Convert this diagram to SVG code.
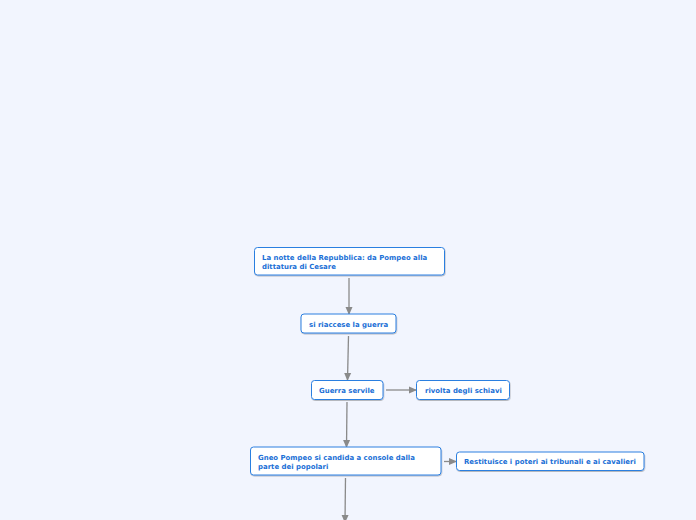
<svg xmlns="http://www.w3.org/2000/svg" width="696" height="520" viewBox="0 0 696 520">
<defs>
<marker id="ah" markerWidth="8" markerHeight="8" refX="7" refY="4" orient="auto" markerUnits="userSpaceOnUse">
<path d="M0,0.5 L8,4 L0,7.5 Z" fill="#8a8a8a"/>
</marker>
<filter id="sh" x="-10%" y="-20%" width="120%" height="150%">
<feDropShadow dx="0.5" dy="1" stdDeviation="0.6" flood-color="#000" flood-opacity="0.25"/>
</filter>
</defs>
<style>
.box{fill:#fff;stroke:#2c7fe0;stroke-width:1;filter:url(#sh)}
.t{font-family:"DejaVu Sans",Verdana,sans-serif;font-weight:bold;font-size:6.95px;fill:#1a6fd6}
.c{stroke:#8a8a8a;stroke-width:1.3;fill:none;marker-end:url(#ah)}
</style>
<rect width="696" height="520" fill="#f2f5fe"/>
<g id="connectors">
<line class="c" x1="349" y1="278" x2="349" y2="314"/>
<line class="c" x1="348.5" y1="336" x2="347.5" y2="380"/>
<line class="c" x1="386" y1="390" x2="416" y2="390"/>
<line class="c" x1="347" y1="402" x2="346.5" y2="447"/>
<line class="c" x1="444" y1="461.5" x2="456" y2="461.5"/>
<line class="c" x1="345.5" y1="478" x2="345" y2="522"/>
</g>
<g id="n1"><rect class="box" x="254.5" y="247.5" width="190" height="27.5" rx="3"/>
<text class="t" x="262" y="260">La notte della Repubblica: da Pompeo alla</text>
<text class="t" x="262" y="269">dittatura di Cesare</text></g>
<g id="n2"><rect class="box" x="301" y="314" width="95" height="19" rx="3"/>
<text class="t" x="309" y="326.5">si riaccese la guerra</text></g>
<g id="n3"><rect class="box" x="311.5" y="380.5" width="71.5" height="19" rx="3"/>
<text class="t" x="319" y="392.5">Guerra servile</text></g>
<g id="n4"><rect class="box" x="416.5" y="380.5" width="93" height="19" rx="3"/>
<text class="t" x="425" y="392.5">rivolta degli schiavi</text></g>
<g id="n5"><rect class="box" x="250.5" y="447" width="190.5" height="28" rx="3"/>
<text class="t" x="258" y="459.5">Gneo Pompeo si candida a console dalla</text>
<text class="t" x="258" y="468.5">parte dei popolari</text></g>
<g id="n6"><rect class="box" x="456.5" y="452" width="187.5" height="18.5" rx="3"/>
<text class="t" x="464" y="464">Restituisce i poteri ai tribunali e ai cavalieri</text></g>
</svg>
